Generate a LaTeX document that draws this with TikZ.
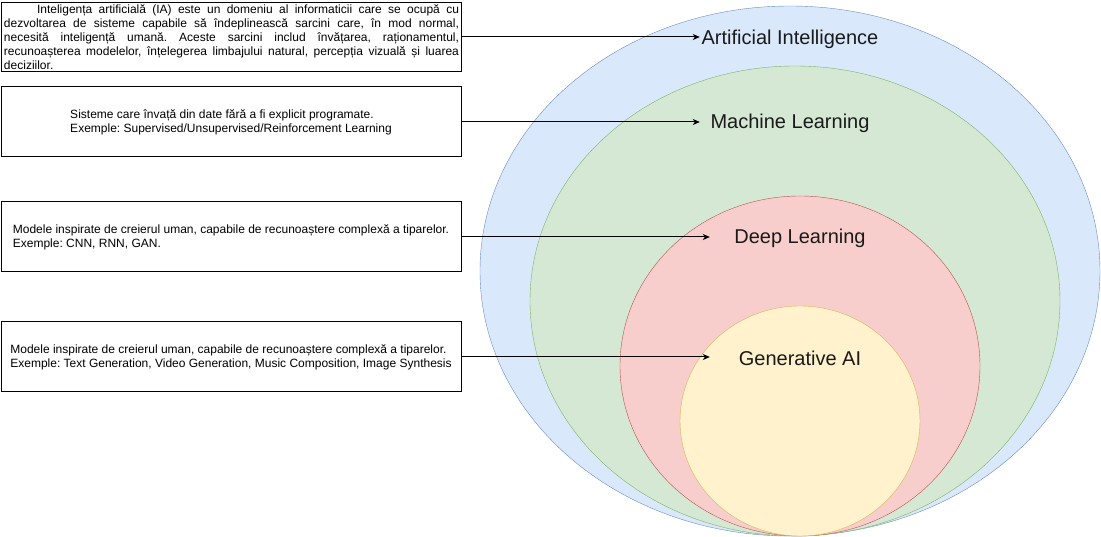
\documentclass[tikz,border=0pt]{standalone}
\usepackage{fontspec}
\setmainfont{Liberation Sans}
\usepackage{xcolor}
\usepackage{tikz}
\usetikzlibrary{positioning}
\usetikzlibrary{arrows.meta}
\definecolor{aiFill}{HTML}{DAE8FC}
\definecolor{aiLine}{HTML}{6C8EBF}
\definecolor{mlFill}{HTML}{D5E8D4}
\definecolor{mlLine}{HTML}{82B366}
\definecolor{dlFill}{HTML}{F8CECC}
\definecolor{dlLine}{HTML}{B85450}
\definecolor{genFill}{HTML}{FFF2CC}
\definecolor{genLine}{HTML}{D6B656}
\definecolor{labelGray}{HTML}{1A1A1A}
\frenchspacing
\tikzset{
  descbox/.style={draw,line width=1pt,minimum width=460pt,minimum height=70pt,inner sep=2pt,font=\fontsize{12}{14}\selectfont,align=left},
  ringlabel/.style={minimum width=180pt,inner sep=0pt,font=\fontsize{20}{24}\selectfont,text=labelGray},
  pointer/.style={-{Stealth[length=7pt,width=6pt,inset=2pt]},line width=1pt}
}

\begin{document}
\begin{tikzpicture}[x=1pt,y=-1pt]
\useasboundingbox (0,0) rectangle (1101,537);
\fill[color=aiFill] (790,271) ellipse [x radius=310pt,y radius=265pt];
\draw[color=aiLine] (790,271) ellipse [x radius=310pt,y radius=265pt];
\fill[color=mlFill] (795,301) ellipse [x radius=265pt,y radius=235pt];
\draw[color=mlLine] (795,301) ellipse [x radius=265pt,y radius=235pt];
\fill[color=dlFill] (800,366) ellipse [x radius=180pt,y radius=170pt];
\draw[color=dlLine] (800,366) ellipse [x radius=180pt,y radius=170pt];
\fill[color=genFill] (800,421) ellipse [x radius=120pt,y radius=115pt];
\draw[color=genLine] (800,421) ellipse [x radius=120pt,y radius=115pt];
\node[ringlabel] (aiLabel) at (790,39) {Artificial Intelligence};
\node[ringlabel] (mlLabel) at (790,123) {Machine Learning};
\node[ringlabel] (dlLabel) at (800,238) {Deep Learning};
\node[ringlabel] (genLabel) at (800,358) {Generative AI};
\node[descbox,text width=455pt,align=justify,minimum height=69pt] (aiBox) at (231.5,37)
{\hspace*{33pt}Inteligența artificială (IA) este un domeniu al informaticii care se ocupă cu\linebreak
dezvoltarea de sisteme capabile să îndeplinească sarcini care, în mod normal,\linebreak
necesită inteligență umană. Aceste sarcini includ învățarea, raționamentul,\linebreak
recunoașterea modelelor, înțelegerea limbajului natural, percepția vizuală și luarea\linebreak
deciziilor.};
\node[descbox] (mlBox) at (231,122)
{Sisteme care învață din date fără a fi explicit programate.\\
Exemple: Supervised/Unsupervised/Reinforcement Learning};
\node[descbox] (dlBox) at (231,237)
{Modele inspirate de creierul uman, capabile de recunoaștere complexă a tiparelor.\\
Exemple: CNN, RNN, GAN.};
\node[descbox] (genBox) at (231,357)
{Modele inspirate de creierul uman, capabile de recunoaștere complexă a tiparelor.\\
Exemple: Text Generation, Video Generation, Music Composition, Image Synthesis};
\draw[pointer] (aiBox.east) -- (aiBox.east -| aiLabel.west);
\draw[pointer] (mlBox.east) -- (mlBox.east -| mlLabel.west);
\draw[pointer] (dlBox.east) -- (dlBox.east -| dlLabel.west);
\draw[pointer] (genBox.east) -- (genBox.east -| genLabel.west);
\end{tikzpicture}
\end{document}
